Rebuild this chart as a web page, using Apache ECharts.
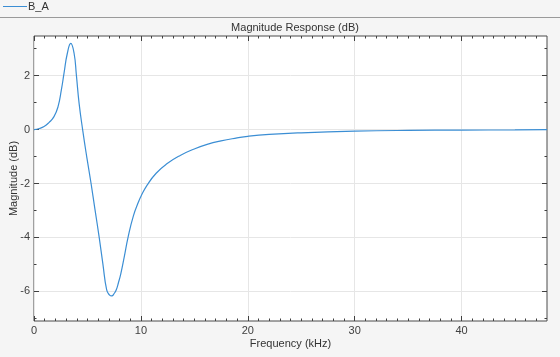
<!DOCTYPE html>
<html><head><meta charset="utf-8">
<script src="https://cdn.jsdelivr.net/npm/echarts@6/dist/echarts.min.js"></script>
<style>html,body{margin:0;padding:0;background:#f5f5f5;}#c{width:560px;height:357px;}</style>
</head><body><div id="c"></div>
<script>
var freqKHz = [0, 0.5, 0.94, 1.4, 1.87, 2.25, 2.56, 2.81, 3.12, 3.44, 3.75, 3.97, 4.22, 4.55, 4.95, 5.34, 5.7, 6.1, 6.45, 6.8, 7.05, 7.28, 7.5, 7.69, 7.9, 8.12, 8.44, 8.8, 9.3, 9.78, 10.0, 10.6, 11.43, 12.43, 13.68, 15.0, 16.2, 17.5, 19.0, 20.0, 22.0, 25.0, 30.0, 35.0, 40.0, 45.0, 48.0];
var magDB = [0, 0.04, 0.11, 0.26, 0.48, 0.85, 1.47, 2.09, 2.83, 3.2, 2.83, 2.0, 0.97, 0, -1.05, -2.0, -2.95, -4.0, -5.0, -5.95, -6.13, -6.17, -6.08, -5.95, -5.68, -5.35, -4.73, -4.0, -3.2, -2.68, -2.48, -2.05, -1.62, -1.27, -0.96, -0.72, -0.55, -0.42, -0.31, -0.25, -0.18, -0.12, -0.06, -0.03, -0.02, -0.01, 0];
var xMajorTicks = [0, 10, 20, 30, 40];
var xMinorTicks = [1,2,3,4,5,6,7,8,9,11,12,13,14,15,16,17,18,19,21,22,23,24,25,26,27,28,29,31,32,33,34,35,36,37,38,39,41,42,43,44,45,46,47];
var yMajorTicks = [-6, -4, -2, 0, 2];
var yMinorTicks = [-7, -5, -3, -1, 1, 3];
var seriesName = 'B_A';
var titleText = 'Magnitude Response (dB)';
var xName = 'Frequency (kHz)';
var yName = 'Magnitude (dB)';

var FONT = 'Liberation Sans, Arial, sans-serif';
var TXT = '#404040';
var TICK = '#404040';
var GRIDC = '#e6e6e6';
var XMIN = 0, XMAX = 48, YMIN = -7.1, YMAX = 3.47;

var data = freqKHz.map(function(f, i){ return [f, magDB[i]]; });

function xAx(pos, ticks, len, labels, grid, name){
  return {
    type: 'value', position: pos, min: XMIN, max: XMAX, offset: 0,
    axisLine: {show: false, onZero: false},
    axisTick: {show: true, inside: true, length: len, customValues: ticks, lineStyle: {color: TICK, width: 1}},
    axisLabel: {show: labels, customValues: ticks, color: TXT, fontFamily: FONT, fontSize: 11, margin: 4},
    splitLine: {show: grid, lineStyle: {color: GRIDC, width: 1}},
    name: name || '', nameLocation: 'middle', nameGap: 17, nameMoveOverlap: false,
    nameTextStyle: {color: '#333', fontFamily: FONT, fontSize: 11}
  };
}
function yAx(pos, ticks, len, labels, grid, name){
  return {
    type: 'value', position: pos, min: YMIN, max: YMAX, offset: 0,
    axisLine: {show: false, onZero: false},
    axisTick: {show: true, inside: true, length: len, customValues: ticks, lineStyle: {color: TICK, width: 1}},
    axisLabel: {show: labels, customValues: ticks, color: TXT, fontFamily: FONT, fontSize: 11, margin: 4},
    splitLine: {show: grid, lineStyle: {color: GRIDC, width: 1}},
    name: name || '', nameLocation: 'middle', nameGap: 15, nameRotate: 90, nameMoveOverlap: false,
    nameTextStyle: {color: '#333', fontFamily: FONT, fontSize: 11}
  };
}

var chart = echarts.init(document.getElementById('c'), null, {renderer: 'canvas'});
chart.setOption({
  animation: false,
  backgroundColor: '#f5f5f5',
  title: {text: titleText, left: 290, textAlign: 'center', top: 17,
    textStyle: {color: '#333', fontFamily: FONT, fontSize: 11, fontWeight: 'normal'}},
  legend: {left: 3, top: 1, padding: 0, itemWidth: 24, itemHeight: 1, icon: 'rect',
    data: [seriesName], textStyle: {color: '#333', fontFamily: FONT, fontSize: 11, padding: [0,0,0,-4]}},
  graphic: [{type: 'line', shape: {x1: 0, y1: 17.5, x2: 560, y2: 17.5}, style: {stroke: '#9a9a9a', lineWidth: 1}, z: 100}],
  grid: {left: 34, right: 13, top: 36, bottom: 36, containLabel: false, outerBoundsMode: 'none',
    show: true, backgroundColor: '#ffffff', borderColor: '#4a4a4a', borderWidth: 1},
  xAxis: [
    xAx('bottom', xMajorTicks, 5, true, true, xName),
    xAx('bottom', xMinorTicks, 2.5, false, false),
    xAx('top', xMajorTicks, 5, false, false),
    xAx('top', xMinorTicks, 2.5, false, false)
  ],
  yAxis: [
    yAx('left', yMajorTicks, 5, true, true, yName),
    yAx('left', yMinorTicks, 2.5, false, false),
    yAx('right', yMajorTicks, 5, false, false),
    yAx('right', yMinorTicks, 2.5, false, false)
  ],
  series: [{
    name: seriesName, type: 'line', data: data, smooth: 0.5, showSymbol: false,
    xAxisIndex: 0, yAxisIndex: 0,
    lineStyle: {color: '#3b8ed4', width: 1.2}, itemStyle: {color: '#3b8ed4'}
  }]
});
</script></body></html>
